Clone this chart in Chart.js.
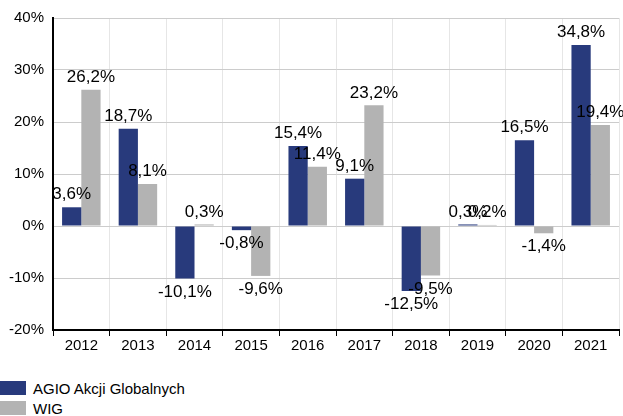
<!DOCTYPE html>
<html>
<head>
<meta charset="utf-8">
<script src="https://cdn.jsdelivr.net/npm/chart.js@4/dist/chart.umd.min.js"></script>
<style>
  html, body { margin: 0; padding: 0; background: #fff; }
  #wrap { position: relative; width: 623px; height: 416px; font-family: "Liberation Sans", Arial, sans-serif; }
  #cv { position: absolute; left: 0; top: 0; }
  #legend { position: absolute; left: 0; top: 378px; font-size: 15px; color: #000; }
  .li { display: flex; align-items: center; height: 20px; }
  .sw { width: 26px; height: 14px; margin-right: 7px; }
</style>
</head>
<body>
<div id="wrap">
  <canvas id="cv" width="623" height="356"></canvas>
  <div id="legend"></div>
</div>
<script>
const categories = ["2012","2013","2014","2015","2016","2017","2018","2019","2020","2021"];
const agioValues = [3.6, 18.7, -10.1, -0.8, 15.4, 9.1, -12.5, 0.3, 16.5, 34.8];
const wigValues  = [26.2, 8.1, 0.3, -9.6, 11.4, 23.2, -9.5, 0.2, -1.4, 19.4];
const seriesNames = ["AGIO Akcji Globalnych", "WIG"];
const seriesColors = ["#283a7c", "#b3b3b3"];

function fmt(v) { return v.toFixed(1).replace(".", ",") + "%"; }

const labelPlugin = {
  id: "valLabels",
  afterDatasetsDraw(chart) {
    const ctx = chart.ctx;
    ctx.save();
    ctx.font = "17px 'Liberation Sans', Arial, sans-serif";
    ctx.fillStyle = "#000";
    ctx.textAlign = "center";
    chart.data.datasets.forEach((ds, di) => {
      const meta = chart.getDatasetMeta(di);
      meta.data.forEach((bar, i) => {
        const v = ds.data[i];
        if (v >= 0) {
          ctx.textBaseline = "bottom";
          ctx.fillText(fmt(v), bar.x, bar.y - 4);
        } else {
          ctx.textBaseline = "top";
          ctx.fillText(fmt(v), bar.x, bar.y + 5);
        }
      });
    });
    ctx.restore();
  }
};

new Chart(document.getElementById("cv"), {
  type: "bar",
  data: {
    labels: categories,
    datasets: [
      { label: seriesNames[0], data: agioValues, backgroundColor: seriesColors[0] },
      { label: seriesNames[1], data: wigValues, backgroundColor: seriesColors[1] }
    ]
  },
  options: {
    responsive: false,
    animation: false,
    layout: { padding: { top: 8, right: 4, left: 0, bottom: 0 } },
    datasets: { bar: { categoryPercentage: 0.68, barPercentage: 1.0 } },
    plugins: { legend: { display: false }, tooltip: { enabled: false } },
    scales: {
      x: {
        grid: { offset: true, color: "#e6e6e6", tickColor: "#000", tickLength: 6, drawTicks: true },
        border: { color: "#000", width: 2 },
        ticks: { color: "#000", font: { size: 15, family: "'Liberation Sans', Arial, sans-serif" }, padding: 1 }
      },
      y: {
        min: -20, max: 40,
        grid: { color: "#cccccc", drawTicks: false },
        border: { color: "#000", width: 2 },
        ticks: {
          stepSize: 10, color: "#000", padding: 9,
          font: { size: 15, family: "'Liberation Sans', Arial, sans-serif" },
          callback: v => v + "%"
        }
      }
    }
  },
  plugins: [labelPlugin]
});

const lg = document.getElementById("legend");
seriesNames.forEach((n, i) => {
  const d = document.createElement("div"); d.className = "li";
  const s = document.createElement("div"); s.className = "sw"; s.style.background = seriesColors[i];
  const t = document.createElement("span"); t.textContent = n;
  d.appendChild(s); d.appendChild(t); lg.appendChild(d);
});
</script>
</body>
</html>
